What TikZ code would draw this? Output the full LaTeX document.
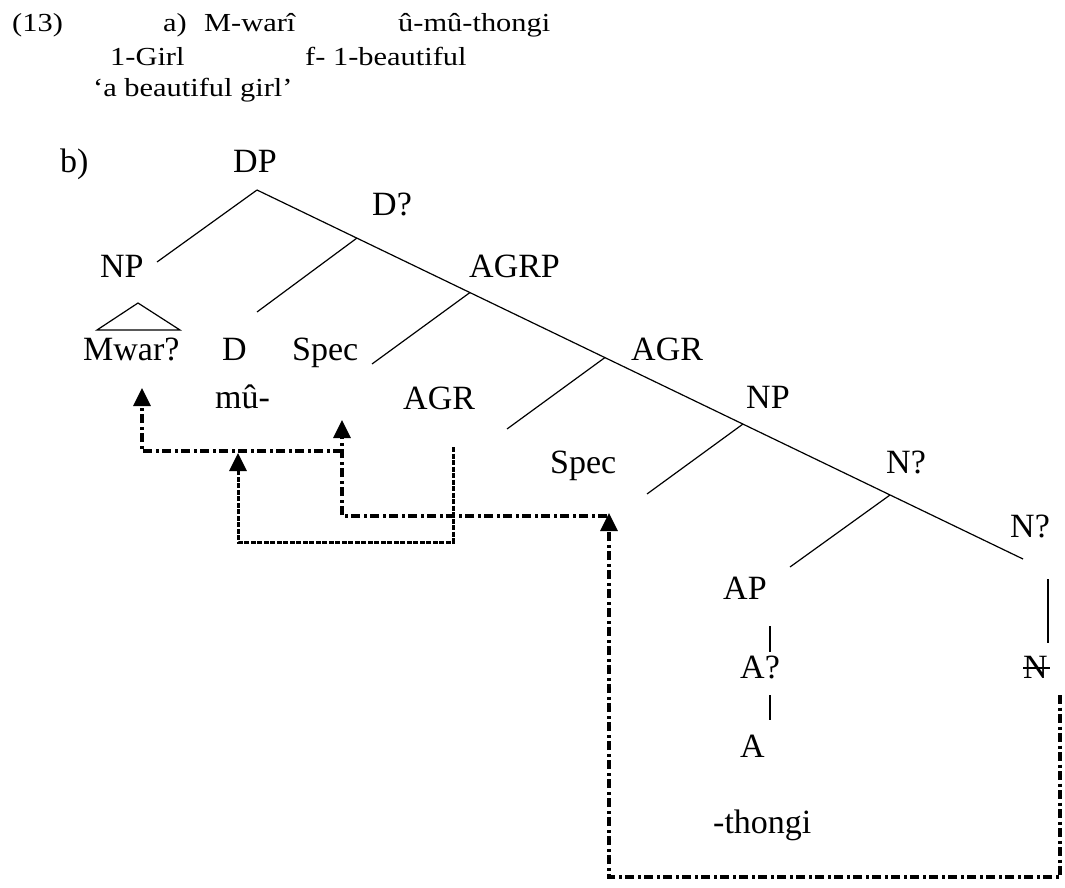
\documentclass[tikz,border=0pt]{standalone}
\usepackage{graphicx}
\usepackage{fontspec}
\setmainfont{Liberation Serif}
\usetikzlibrary{arrows.meta}

\newcommand{\glosswide}[1]{\scalebox{1.17}[1]{#1}}

\tikzset{
	lbl/.style={anchor=base west, inner sep=0pt, font=\fontsize{34}{40}\selectfont},
	gloss/.style={anchor=base west, inner sep=0pt, font=\fontsize{26}{31}\selectfont},
	treeline/.style={line width=1.2pt},
	movearrow/.style={line width=3.3pt, dash pattern=on 9pt off 3.5pt on 3pt off 3.5pt, -{Triangle[width=17pt,length=18pt]}},
	agrarrow/.style={line width=3pt, dash pattern=on 5pt off 1.5pt, -{Triangle[width=17pt,length=18pt]}}
}

\begin{document}
\begin{tikzpicture}[x=1pt, y=-1pt]
	\useasboundingbox (0,0) rectangle (1065,888);
	
	\node[gloss] (ex) at (12,32) {\glosswide{(13)}};
	\node[gloss] (exa) at (163,32) {\glosswide{a)}};
	\node[gloss] (mwari) at (204,32) {\glosswide{M-warî}};
	\node[gloss] (umuthongi) at (398,32) {\glosswide{û-mû-thongi}};
	\node[gloss] (girl) at (110,66) {\glosswide{1-Girl}};
	\node[gloss] (beautiful) at (305,66) {\glosswide{f- 1-beautiful}};
	\node[gloss] (transl) at (93,97) {\glosswide{‘a beautiful girl’}};
	
	\node[lbl] (exb) at (60,172) {b)};
	\node[lbl] (dp) at (233,172) {DP};
	\node[lbl] (dbar) at (372,215) {D?};
	\node[lbl] (np) at (100,277) {NP};
	\node[lbl] (agrp) at (469,277) {AGRP};
	\node[lbl] (mwar) at (83,360) {Mwar?};
	\node[lbl] (d) at (222,360) {D};
	\node[lbl] (spec) at (292,360) {Spec};
	\node[lbl] (agrbar) at (631,360) {AGR};
	\node[lbl] (mu) at (215,408) {mû-};
	\node[lbl] (agr) at (403,409) {AGR};
	\node[lbl] (nnp) at (746,408) {NP};
	\node[lbl] (nspec) at (550,473) {Spec};
	\node[lbl] (nbar) at (886,473) {N?};
	\node[lbl] (nbarr) at (1010,537) {N?};
	\node[lbl] (ap) at (723,599) {AP};
	\node[lbl] (abar) at (740,678) {A?};
	\node[lbl] (n) at (1023,678) {N};
	\node[lbl] (a) at (740,757) {A};
	\node[lbl] (thongi) at (713,833) {-thongi};
	
	\coordinate (dproot) at (257,190);
	\coordinate (dbarroot) at (357,238);
	\coordinate (agrproot) at (470,292.5);
	\coordinate (agrbarroot) at (605,357.5);
	\coordinate (nproot) at (743,424);
	\coordinate (nbarroot) at (890,495);
	\coordinate (nbarrend) at (1023,559);
	\coordinate (npend) at (157,262);
	\coordinate (dend) at (257,312);
	\coordinate (specend) at (372,364);
	\coordinate (agrend) at (507,429);
	\coordinate (nspecend) at (647,494);
	\coordinate (apend) at (790,567);
	
	\draw[treeline] (dproot) -- (nbarrend);
	\draw[treeline] (dproot) -- (npend);
	\draw[treeline] (dbarroot) -- (dend);
	\draw[treeline] (agrproot) -- (specend);
	\draw[treeline] (agrbarroot) -- (agrend);
	\draw[treeline] (nproot) -- (nspecend);
	\draw[treeline] (nbarroot) -- (apend);
	
	\draw[treeline] (97,330) -- (138,303) -- (180,330) -- cycle;
	\draw[treeline] (770,626) -- (770,652);
	\draw[treeline] (770,695) -- (770,720);
	\draw[treeline] (1048,579) -- (1048,643);
	\draw[treeline] ([yshift=10pt]n.base west) -- ([yshift=10pt,xshift=2pt]n.base east);
	
	\coordinate (ntrace) at (1060,695);
	\coordinate (ncorner) at (1060,877);
	\coordinate (nspectop) at (609,513);
	\coordinate (nspectrace) at (607,516);
	\coordinate (spectop) at (342,420);
	\coordinate (specmid) at (342,451);
	\coordinate (mwartop) at (142,388);
	\coordinate (agrtrace) at (453,447);
	\coordinate (agrcorner) at (453,542);
	\coordinate (mutop) at (238,453);
	
	\draw[movearrow] (ntrace) -- (ncorner) -| (nspectop);
	\draw[movearrow] (nspectrace) -| (spectop);
	\draw[movearrow] (specmid) -| (mwartop);
	\draw[agrarrow] (agrtrace) -- (agrcorner) -| (mutop);
\end{tikzpicture}
\end{document}
